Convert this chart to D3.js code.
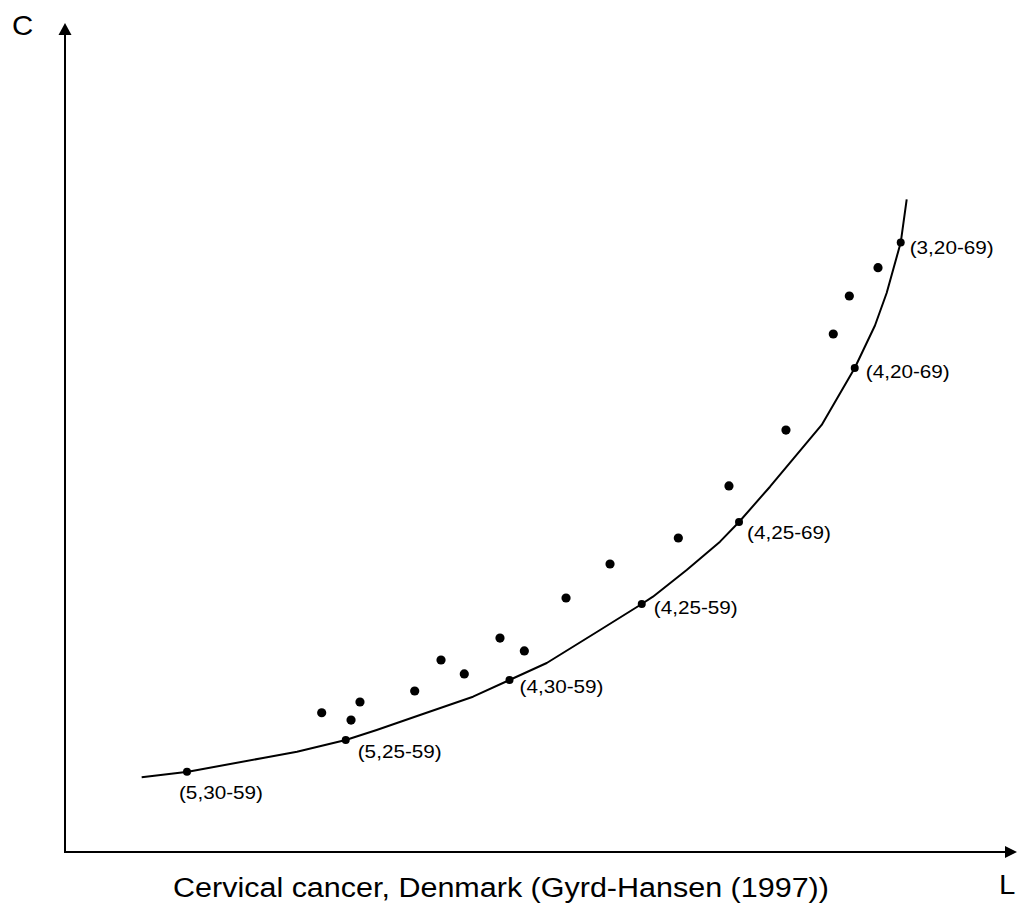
<!DOCTYPE html>
<html>
<head>
<meta charset="utf-8">
<script src="https://cdn.jsdelivr.net/npm/d3@7"></script>
<style>
  html, body { margin: 0; padding: 0; background: #fff; }
  svg { display: block; }
  text { font-family: "Liberation Sans", Arial, Helvetica, sans-serif; fill: #000; }
</style>
</head>
<body>
<svg id="chart" width="1020" height="918"></svg>
<script>
// ---- data (axis units: 0..100 along each arrow) ----
const labeledNames = ["(5,30-59)", "(5,25-59)", "(4,30-59)", "(4,25-59)", "(4,25-69)", "(4,20-69)", "(3,20-69)"];
const labeledL = [12.84, 29.55, 46.79, 60.71, 70.95, 83.13, 87.97];
const labeledC = [9.67, 13.49, 20.72, 29.88, 39.76, 58.31, 73.43];

const otherL = [27.02, 30.11, 31.05, 36.81, 39.58, 42.03, 45.79, 48.35, 52.74, 57.37, 64.56, 69.89, 75.89, 80.87, 82.56, 85.58];
const otherC = [16.78, 15.90, 18.07, 19.40, 23.13, 21.45, 25.78, 24.22, 30.60, 34.70, 37.83, 44.10, 50.84, 62.41, 66.99, 70.40];

const curveL = [8.07, 12.95, 20.84, 24.42, 29.55, 32.81, 37.37, 42.95, 46.79, 50.71, 56.32, 60.71, 61.89, 65.44, 68.95, 70.95, 74.21, 79.65, 83.13, 85.26, 86.49, 87.97, 88.60];
const curveC = [9.00, 9.67, 11.33, 12.08, 13.49, 14.70, 16.51, 18.71, 20.72, 22.77, 26.75, 29.88, 30.76, 33.98, 37.39, 39.76, 44.01, 51.45, 58.31, 63.43, 67.35, 73.43, 78.64];

const xAxisLabel = "L";
const yAxisLabel = "C";
const title = "Cervical cancer, Denmark (Gyrd-Hansen (1997))";

// ---- layout ----
const labelOffsets = [[-8, 27], [12, 18], [10, 13], [12, 10], [8, 17], [11, 10], [9, 11]];
const stretch = 1.09;

const svg = d3.select("#chart");
const x = d3.scaleLinear().domain([0, 100]).range([65, 1015]);
const y = d3.scaleLinear().domain([0, 100]).range([852, 22]);

// axes
const ox = x(0), oy = y(0);
svg.append("line").attr("x1", ox).attr("y1", oy).attr("x2", x(100) - 8).attr("y2", oy)
  .attr("stroke", "#000").attr("stroke-width", 2);
svg.append("line").attr("x1", ox).attr("y1", oy + 1).attr("x2", ox).attr("y2", y(100) + 10)
  .attr("stroke", "#000").attr("stroke-width", 2);
// arrowheads
const xt = x(100) + 2, yt = y(100) + 1;
svg.append("path").attr("d", `M${xt},${oy} L${xt - 12},${oy - 6} L${xt - 12},${oy + 6} Z`).attr("fill", "#000");
svg.append("path").attr("d", `M${ox},${yt} L${ox - 6.5},${yt + 12} L${ox + 6.5},${yt + 12} Z`).attr("fill", "#000");

// curve
const curvePts = curveL.map((v, i) => [v, curveC[i]]);
const line = d3.line().x(d => x(d[0])).y(d => y(d[1])).curve(d3.curveLinear);
svg.append("path").datum(curvePts).attr("d", line)
  .attr("fill", "none").attr("stroke", "#000").attr("stroke-width", 2).attr("stroke-linejoin", "round");

// other dots
svg.selectAll("circle.other").data(otherL.map((v, i) => [v, otherC[i]])).join("circle")
  .attr("class", "other").attr("cx", d => x(d[0])).attr("cy", d => y(d[1])).attr("r", 4.6).attr("fill", "#000");

// labeled dots
const lab = labeledNames.map((n, i) => ({ n, l: labeledL[i], c: labeledC[i], o: labelOffsets[i] }));
svg.selectAll("circle.lab").data(lab).join("circle")
  .attr("class", "lab").attr("cx", d => x(d.l)).attr("cy", d => y(d.c)).attr("r", 4).attr("fill", "#000");
svg.selectAll("text.lab").data(lab).join("text")
  .attr("class", "lab")
  .attr("transform", d => `translate(${x(d.l) + d.o[0]},${y(d.c) + d.o[1]}) scale(${stretch},1)`)
  .attr("font-size", 19).text(d => d.n);

// axis letters and title
svg.append("text").attr("transform", `translate(12,35) scale(${stretch},1)`).attr("font-size", 27).text(yAxisLabel);
svg.append("text").attr("transform", `translate(999,894) scale(${stretch},1)`).attr("font-size", 27).text(xAxisLabel);
svg.append("text").attr("transform", `translate(173,897) scale(${stretch},1)`).attr("font-size", 28).text(title);
</script>
</body>
</html>
